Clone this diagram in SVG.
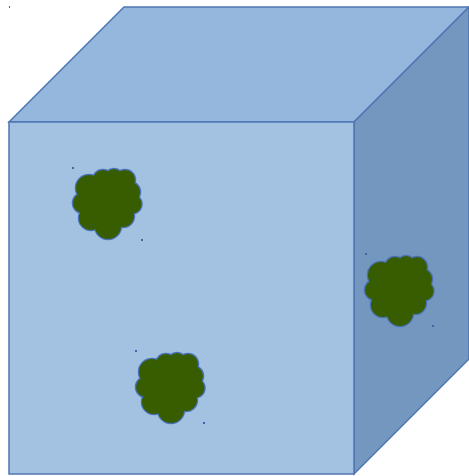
<svg xmlns="http://www.w3.org/2000/svg" width="469" height="476" viewBox="0 0 469 476">
<style>
.face{stroke:#4F76B3;stroke-width:1.5;stroke-linejoin:miter}
.cs circle{fill:none;stroke:#4A72B8;stroke-width:2.5}
.cf circle{fill:#375D00;stroke:none}
.dot{fill:#3F68A8}
</style>
<defs>
<g id="cloud">
<g class="cs">
<circle cx="16" cy="20" r="13"/><circle cx="30" cy="12" r="10"/><circle cx="41" cy="10" r="9"/><circle cx="52" cy="12" r="10"/><circle cx="57" cy="24" r="10"/><circle cx="59" cy="36" r="9.5"/><circle cx="50" cy="48" r="11"/><circle cx="35" cy="58" r="13"/><circle cx="18" cy="50" r="12"/><circle cx="10" cy="35" r="10"/>
</g>
<g class="cf">
<circle cx="16" cy="20" r="13"/><circle cx="30" cy="12" r="10"/><circle cx="41" cy="10" r="9"/><circle cx="52" cy="12" r="10"/><circle cx="57" cy="24" r="10"/><circle cx="59" cy="36" r="9.5"/><circle cx="50" cy="48" r="11"/><circle cx="35" cy="58" r="13"/><circle cx="18" cy="50" r="12"/><circle cx="10" cy="35" r="10"/><circle cx="35" cy="35" r="23"/>
</g>
</g>
</defs>
<g id="cube">
<polygon class="face" points="9,122 124,7 469,7 354,122" fill="#95B7DE"/>
<polygon class="face" points="354,122 469,7 469,359 354,474" fill="#7397BF"/>
<rect class="face" x="9" y="122" width="345" height="352" fill="#A3C1E1"/>
</g>
<g id="cloud1"><use href="#cloud" transform="translate(73,168)"/><rect class="dot" x="72" y="167" width="2" height="2"/><rect class="dot" x="141" y="239" width="2" height="2"/></g>
<g id="cloud2"><use href="#cloud" transform="translate(136,352)"/><rect class="dot" x="135" y="350" width="2" height="2"/><rect class="dot" x="203" y="422" width="2" height="2"/></g>
<g id="cloud3"><use href="#cloud" transform="translate(365,255)"/><rect class="dot" x="365" y="253" width="2" height="2"/><rect class="dot" x="432" y="325" width="2" height="2"/></g>
<rect class="dot" x="9" y="6" width="1" height="2"/>
</svg>
